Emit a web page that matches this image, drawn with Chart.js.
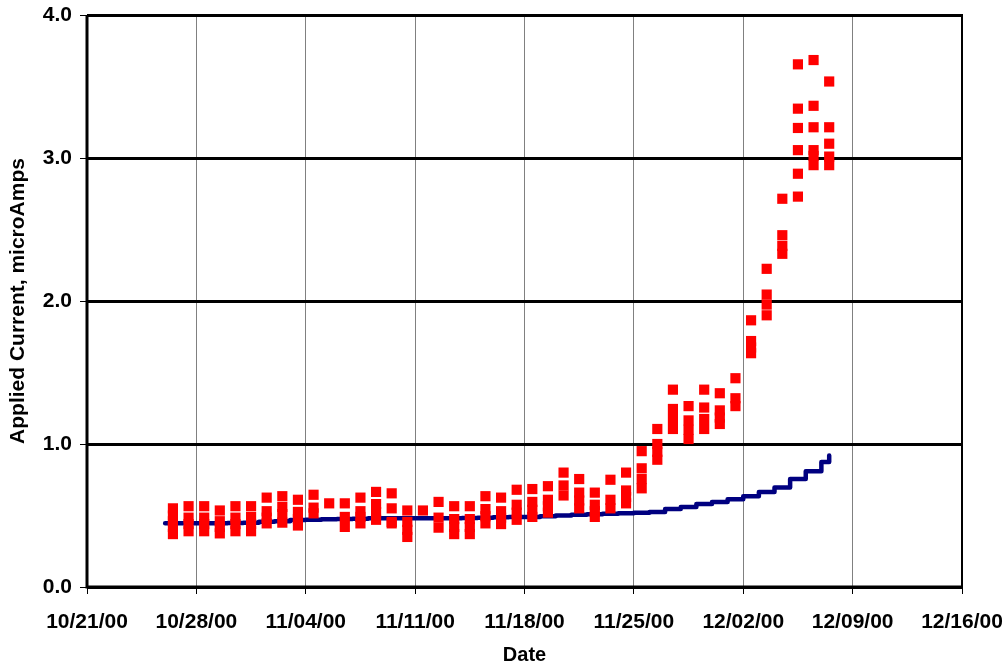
<!DOCTYPE html>
<html>
<head>
<meta charset="utf-8">
<title>Applied Current</title>
<script src="https://cdn.jsdelivr.net/npm/chart.js@4.4.0/dist/chart.umd.min.js"></script>
<style>
  html, body { margin: 0; padding: 0; background: #fff; }
</style>
</head>
<body>
<canvas id="chart" width="1005" height="665"></canvas>
<script>
// x axis runs in days from this date
var startDate = '2000-10-21';
var tickLabels = ['10/21/00', '10/28/00', '11/04/00', '11/11/00', '11/18/00',
                  '11/25/00', '12/02/00', '12/09/00', '12/16/00'];

// red squares: one column of readings per day
var readingTimes = [
  '2000-10-26T12:00', '2000-10-27T12:00', '2000-10-28T12:00', '2000-10-29T12:00',
  '2000-10-30T12:00', '2000-10-31T12:00', '2000-11-01T12:00', '2000-11-02T12:00',
  '2000-11-03T12:00', '2000-11-04T12:00', '2000-11-05T12:00', '2000-11-06T12:00',
  '2000-11-07T12:00', '2000-11-08T12:00', '2000-11-09T12:00', '2000-11-10T12:00',
  '2000-11-11T12:00', '2000-11-12T12:00', '2000-11-13T12:00', '2000-11-14T12:00',
  '2000-11-15T12:00', '2000-11-16T12:00', '2000-11-17T12:00', '2000-11-18T12:00',
  '2000-11-19T12:00', '2000-11-20T12:00', '2000-11-21T12:00', '2000-11-22T12:00',
  '2000-11-23T12:00', '2000-11-24T12:00', '2000-11-25T12:00', '2000-11-26T12:00',
  '2000-11-27T12:00', '2000-11-28T12:00', '2000-11-29T12:00', '2000-11-30T12:00',
  '2000-12-01T12:00', '2000-12-02T12:00', '2000-12-03T12:00', '2000-12-04T12:00',
  '2000-12-05T12:00', '2000-12-06T12:00', '2000-12-07T12:00'
];
var readingValues = [
  [0.55, 0.50, 0.46, 0.42, 0.37],
  [0.565, 0.485, 0.44, 0.39],
  [0.565, 0.485, 0.44, 0.39],
  [0.535, 0.46, 0.42, 0.375],
  [0.565, 0.485, 0.44, 0.39],
  [0.565, 0.49, 0.44, 0.39],
  [0.625, 0.53, 0.485, 0.445],
  [0.635, 0.56, 0.51, 0.45],
  [0.61, 0.525, 0.475, 0.43],
  [0.645, 0.555, 0.515],
  [0.585],
  [0.585, 0.49, 0.42],
  [0.625, 0.53, 0.49, 0.445],
  [0.665, 0.58, 0.525, 0.47],
  [0.655, 0.55, 0.455, 0.445],
  [0.535, 0.455, 0.40, 0.35],
  [0.535],
  [0.595, 0.485, 0.415],
  [0.565, 0.475, 0.42, 0.37],
  [0.565, 0.475, 0.42, 0.37],
  [0.635, 0.545, 0.495, 0.445],
  [0.625, 0.53, 0.485, 0.44],
  [0.68, 0.575, 0.52, 0.47],
  [0.685, 0.595, 0.54, 0.49],
  [0.705, 0.61, 0.565, 0.52],
  [0.80, 0.71, 0.64],
  [0.755, 0.66, 0.605, 0.55],
  [0.66, 0.575, 0.53, 0.49],
  [0.75, 0.61, 0.55],
  [0.80, 0.675, 0.63, 0.585],
  [0.95, 0.83, 0.755, 0.69],
  [1.105, 1.0, 0.945, 0.89],
  [1.38, 1.245, 1.175, 1.105],
  [1.265, 1.165, 1.10, 1.035],
  [1.38, 1.255, 1.175, 1.105],
  [1.355, 1.235, 1.185, 1.14],
  [1.46, 1.32, 1.265],
  [1.865, 1.72, 1.675, 1.635],
  [2.225, 2.045, 1.975, 1.90],
  [2.715, 2.46, 2.385, 2.33],
  [3.655, 3.345, 3.21, 3.055, 2.89, 2.73],
  [3.685, 3.365, 3.215, 3.055, 3.015, 2.95],
  [3.535, 3.215, 3.10, 3.01, 2.95]
];

// blue stepped line
var lineTimes = [
  '2000-10-26T00:00', '2000-10-27T00:00', '2000-10-28T00:00', '2000-10-29T00:00',
  '2000-10-30T00:00', '2000-10-31T00:00', '2000-11-01T00:00', '2000-11-02T00:00',
  '2000-11-03T00:00', '2000-11-04T00:00', '2000-11-05T00:00', '2000-11-06T00:00',
  '2000-11-07T00:00', '2000-11-08T00:00', '2000-11-09T00:00', '2000-11-10T00:00',
  '2000-11-11T00:00', '2000-11-12T00:00', '2000-11-13T00:00', '2000-11-14T00:00',
  '2000-11-15T00:00', '2000-11-16T00:00', '2000-11-17T00:00', '2000-11-18T00:00',
  '2000-11-19T00:00', '2000-11-20T00:00', '2000-11-21T00:00', '2000-11-22T00:00',
  '2000-11-23T00:00', '2000-11-24T00:00', '2000-11-25T00:00', '2000-11-26T00:00',
  '2000-11-27T00:00', '2000-11-28T00:00', '2000-11-29T00:00', '2000-11-30T00:00',
  '2000-12-01T00:00', '2000-12-02T00:00', '2000-12-03T00:00', '2000-12-04T00:00',
  '2000-12-05T00:00', '2000-12-06T00:00', '2000-12-07T00:00', '2000-12-07T12:00'
];
var lineValues = [
  0.445, 0.445, 0.445, 0.445, 0.447, 0.45, 0.457, 0.46, 0.468, 0.47, 0.473,
  0.475, 0.478, 0.48, 0.48, 0.48, 0.48, 0.48, 0.48, 0.482, 0.485, 0.487,
  0.49, 0.49, 0.495, 0.50, 0.505, 0.508, 0.512, 0.515, 0.52, 0.525, 0.545,
  0.56, 0.58, 0.595, 0.613, 0.635, 0.665, 0.695, 0.755, 0.81, 0.875, 0.92
];

function dayOf(s) {
  return (Date.parse(s + 'Z') - Date.parse(startDate + 'T00:00Z')) / 86400000;
}

var redPoints = [];
readingTimes.forEach(function (t, i) {
  readingValues[i].forEach(function (v) {
    redPoints.push({ x: dayOf(t), y: v });
  });
});
var bluePoints = lineTimes.map(function (t, i) {
  return { x: dayOf(t), y: lineValues[i] };
});

// outer frame of the plot area
var frame = {
  id: 'frame',
  afterDatasetsDraw: function (chart) {
    var a = chart.chartArea, ctx = chart.ctx;
    ctx.save();
    ctx.strokeStyle = '#000';
    ctx.lineWidth = 2;
    ctx.beginPath();
    ctx.moveTo(a.left, a.top);
    ctx.lineTo(a.right, a.top);
    ctx.lineTo(a.right, a.bottom);
    ctx.stroke();
    ctx.lineWidth = 3;
    ctx.beginPath();
    ctx.moveTo(a.left, a.top);
    ctx.lineTo(a.left, a.bottom);
    ctx.lineTo(a.right, a.bottom);
    ctx.stroke();
    ctx.restore();
  }
};

Chart.defaults.font.family = "'Liberation Sans', Arial, sans-serif";
Chart.defaults.font.weight = 'bold';
Chart.defaults.color = '#000';

new Chart(document.getElementById('chart').getContext('2d'), {
  type: 'scatter',
  data: {
    datasets: [{
      label: 'Readings',
      data: redPoints,
      pointStyle: 'rect',
      pointRadius: 7.2,
      pointHoverRadius: 7.2,
      backgroundColor: '#ff0000',
      borderWidth: 0,
      order: 1
    }, {
      label: 'Line',
      type: 'line',
      data: bluePoints,
      stepped: true,
      borderColor: '#000080',
      borderWidth: 4.5,
      borderJoinStyle: 'round',
      borderCapStyle: 'round',
      pointRadius: 0,
      fill: false,
      order: 2
    }]
  },
  options: {
    responsive: false,
    animation: false,
    layout: {
      padding: { left: 0, right: 43, top: 15, bottom: 0 }
    },
    scales: {
      x: {
        type: 'linear',
        min: 0,
        max: 56,
        afterFit: function (s) {
          s.height = 78;
          s.paddingLeft = 0;
          s.paddingRight = 0;
        },
        afterBuildTicks: function (s) {
          s.ticks = tickLabels.map(function (l, i) { return { value: i * 7 }; });
        },
        ticks: {
          padding: 16,
          maxRotation: 0,
          font: { size: 21 },
          callback: function (v) { return tickLabels[Math.round(v / 7)]; }
        },
        grid: {
          color: '#808080',
          lineWidth: 1,
          tickLength: 7,
          tickColor: '#000'
        },
        border: { display: false },
        title: {
          display: true,
          text: 'Date',
          font: { size: 20, lineHeight: 1 },
          padding: { top: 0, bottom: 0 }
        }
      },
      y: {
        min: 0,
        max: 4,
        afterFit: function (s) {
          s.width = 87;
          s.paddingTop = 0;
          s.paddingBottom = 0;
        },
        ticks: {
          stepSize: 1,
          padding: 8,
          font: { size: 21 },
          callback: function (v) { return v.toFixed(1); }
        },
        grid: {
          color: '#000',
          lineWidth: 3,
          tickLength: 7,
          tickColor: '#000',
          tickWidth: 1
        },
        border: { display: false },
        title: {
          display: true,
          text: 'Applied Current, microAmps',
          font: { size: 21, lineHeight: 1 },
          padding: { top: 8, bottom: 0 }
        }
      }
    },
    plugins: {
      legend: { display: false },
      tooltip: { enabled: false }
    }
  },
  plugins: [frame]
});
</script>
</body>
</html>
